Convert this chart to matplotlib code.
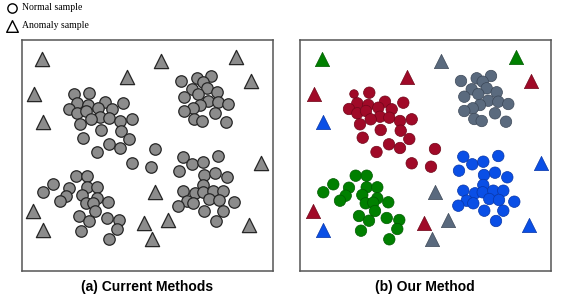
import numpy as np
import matplotlib.pyplot as plt

# point positions (pixel-like units, y grows downward)
red_pts = [(74, 94), (89.3, 92.7), (77.3, 103.3), (69, 109), (88.3, 105), (105, 101.7),
           (123.3, 102.7), (98.3, 107.7), (111.7, 109.3), (77.3, 113.3), (86, 111),
           (100, 116.7), (109.3, 117.7), (90.7, 119.3), (120, 121), (131.7, 119.3),
           (80, 124.3), (100.7, 130), (120.7, 130.7), (82.7, 137.7), (129.3, 139),
           (109, 144.3), (120, 148), (96.5, 152), (131.7, 163.3), (155, 149), (151, 166.7)]
slate_pts = [(181, 81), (196.7, 78.3), (211, 76), (202.7, 81.7), (206.7, 88.3), (191.7, 89.3),
             (184.3, 96.7), (198.3, 94), (216.7, 92.3), (208.3, 100.7), (218.3, 101.7),
             (228.3, 104), (200, 105), (192.7, 108.3), (184.3, 111), (215, 113.3),
             (194.3, 119), (201.7, 121), (226, 121.7)]
green_pts = [(75.7, 175.7), (86.7, 175.7), (53.3, 184.3), (69, 187.7), (86.7, 187.3),
             (97.3, 187.3), (43.3, 192.3), (65.7, 195.7), (82.3, 195), (97.3, 198.3),
             (60, 200.7), (85.7, 203.3), (93.3, 202.7), (108.3, 202.3), (95, 211),
             (79, 216), (106.7, 218), (89, 220.7), (119.3, 220), (117.3, 229),
             (81, 230.7), (109.3, 239.3)]
blue_pts = [(183.3, 156.7), (192.3, 164.3), (203.3, 161.7), (218.3, 156), (179, 170.7),
            (204, 175), (215, 172.7), (227.3, 177.3), (203.3, 185), (183.3, 190.7),
            (195, 193.3), (202.7, 192.3), (213.3, 190.7), (223.3, 190.7), (186.7, 200.7),
            (209.3, 199), (219, 200), (234.3, 201.7), (178.3, 205.7), (193.3, 203.3),
            (204.3, 210.7), (223.3, 210.7), (216, 221)]

# anomalies and the group each one is given by "our method"
tri_pts = [(42.3, 59), (126.7, 77.3), (34, 94), (43.3, 121.7), (160.7, 60.7),
           (235.7, 57.3), (250.7, 80.7), (260.7, 163.3), (155, 192.3), (144, 222.7),
           (168.3, 220), (249.3, 225), (152.3, 239), (33.3, 210.7), (42.7, 230)]
tri_group = ['green', 'red', 'red', 'blue', 'slate', 'green', 'red', 'blue', 'slate',
             'red', 'slate', 'blue', 'slate', 'red', 'blue']

cols = {'red': '#a00a28', 'slate': '#5a6a7e', 'green': '#008000', 'blue': '#0a4fe6'}
edges = {'red': '#700619', 'slate': '#3c4858', 'green': '#005a00', 'blue': '#0836a8'}
gray, gray_edge = '#8c8c8c', '#262626'

W, H = 581, 305
fig = plt.figure(figsize=(W / 100, H / 100), dpi=100)

def panel(x0):
    ax = fig.add_axes([x0 / W, 1 - 271 / H, 251 / W, 231 / H])
    ax.set_xticks([])
    ax.set_yticks([])
    for s in ax.spines.values():
        s.set_color('#555555')
        s.set_linewidth(1.1)
    return ax

csize, tsize = 68, 105

# (a) current methods: everything gray
axa = panel(22)
axa.set_xlim(22, 273)
axa.set_ylim(271, 40)
for pts in [red_pts, slate_pts, green_pts, blue_pts]:
    p = np.array(pts)
    axa.scatter(p[:, 0], p[:, 1], s=csize, c=gray, edgecolors=gray_edge, linewidths=0.9, zorder=3)
t = np.array(tri_pts)
axa.scatter(t[:, 0], t[:, 1], s=tsize, marker='^', c=gray, edgecolors=gray_edge,
            linewidths=0.9, zorder=3)

# (b) our method: coloured by group
axb = panel(300)
axb.set_xlim(20, 271)
axb.set_ylim(271, 40)
for pts, g in [(red_pts, 'red'), (slate_pts, 'slate'), (green_pts, 'green'), (blue_pts, 'blue')]:
    p = np.array(pts)
    sz = np.full(len(p), csize)
    if g == 'red':
        sz[0] = 38  # the small one
    axb.scatter(p[:, 0], p[:, 1], s=sz, c=cols[g], edgecolors=edges[g], linewidths=0.5, zorder=3)
for (x, y), g in zip(tri_pts, tri_group):
    axb.scatter(x, y, s=tsize, marker='^', c=cols[g], edgecolors=edges[g], linewidths=0.5, zorder=3)

# overlay for legend and captions, in pixel units
top = fig.add_axes([0, 0, 1, 1], zorder=-1)
top.set_xlim(0, W)
top.set_ylim(H, 0)
top.axis('off')
top.scatter([12], [8], s=45, facecolors='white', edgecolors='black', linewidths=1.0)
top.scatter([12], [26], s=70, marker='^', facecolors='white', edgecolors='black', linewidths=1.0)
top.text(22, 8, 'Normal sample', family='Liberation Serif', fontsize=7, va='center', ha='left')
top.text(22, 26, 'Anomaly sample', family='Liberation Serif', fontsize=7, va='center', ha='left')
top.text(147, 287, '(a) Current Methods', family='Liberation Sans', weight='bold',
         fontsize=10, ha='center', va='center')
top.text(425, 287, '(b) Our Method', family='Liberation Sans', weight='bold',
         fontsize=10, ha='center', va='center')

fig.savefig('out.png', dpi=100)
